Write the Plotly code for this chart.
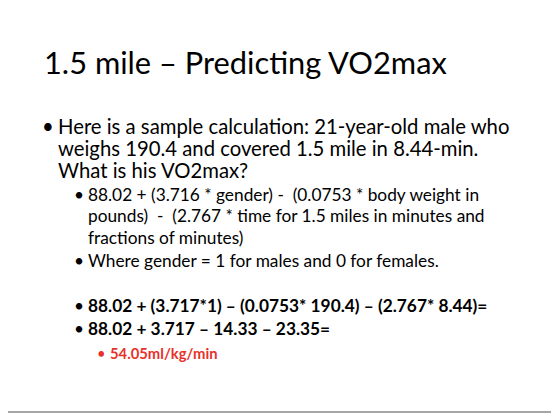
import plotly.graph_objs as go

W, H = 559, 418
FONT = "Lato"
DX, DY = -10, -10  # compensation for page offset

title = "1.5 mile – Predicting VO2max"

# (level, bold, text lines, y of first line in px)
bullet_levels = [1, 2, 2, 2, 2, 3]
bullet_bold = [False, False, False, True, True, True]
bullet_lines = [
    ["Here is a sample calculation: 21-year-old male who",
     "weighs 190.4 and covered 1.5 mile in 8.44-min.",
     "What is his VO2max?"],
    ["88.02 + (3.716 * gender) -  (0.0753 * body weight in",
     "pounds)  -  (2.767 * time for 1.5 miles in minutes and",
     "fractions of minutes)"],
    ["Where gender = 1 for males and 0 for females."],
    ["88.02 + (3.717*1) – (0.0753* 190.4) – (2.767* 8.44)="],
    ["88.02 + 3.717 – 14.33 – 23.35="],
    ["54.05ml/kg/min"],
]
bullet_y = [128, 196, 262, 307, 330, 355]

level_style = {
    1: dict(bx=42, tx=58, size=20.3, gap=22, color="black"),
    2: dict(bx=74, tx=88, size=17.3, gap=21.5, color="black"),
    3: dict(bx=97, tx=110, size=14.8, gap=18, color="#e8312a"),
}

def px(x, y):
    return (x + DX) / W, 1 - (y + DY) / H

ann = []
x, y = px(44, 64)
ann.append(dict(text=title, x=x, y=y, xanchor="left", yanchor="middle",
                showarrow=False, font=dict(family=FONT, size=30.8, color="black")))

for lvl, bold, lines, y0 in zip(bullet_levels, bullet_bold, bullet_lines, bullet_y):
    s = level_style[lvl]
    bx, by = px(s["bx"], y0)
    ann.append(dict(text="•", x=bx, y=by, xanchor="left", yanchor="middle",
                    showarrow=False, font=dict(family=FONT, size=s["size"], color=s["color"])))
    for i, line in enumerate(lines):
        t = f"<b>{line}</b>" if bold else line
        tx, ty = px(s["tx"], y0 + i * s["gap"])
        ann.append(dict(text=t, x=tx, y=ty, xanchor="left", yanchor="middle",
                        showarrow=False, font=dict(family=FONT, size=s["size"], color=s["color"])))

line_y = 1 - 404 / H
layout = go.Layout(
    width=W, height=H,
    margin=dict(l=0, r=0, t=0, b=0),
    paper_bgcolor="white", plot_bgcolor="white",
    xaxis=dict(visible=False, range=[0, 1]),
    yaxis=dict(visible=False, range=[0, 1]),
    annotations=ann,
    shapes=[dict(type="line", xref="paper", yref="paper", x0=-0.05, x1=1.05,
                 y0=line_y, y1=line_y, line=dict(color="#888888", width=1.5))],
    showlegend=False,
)
fig = go.Figure(data=[], layout=layout)
fig.write_html("out.html")
